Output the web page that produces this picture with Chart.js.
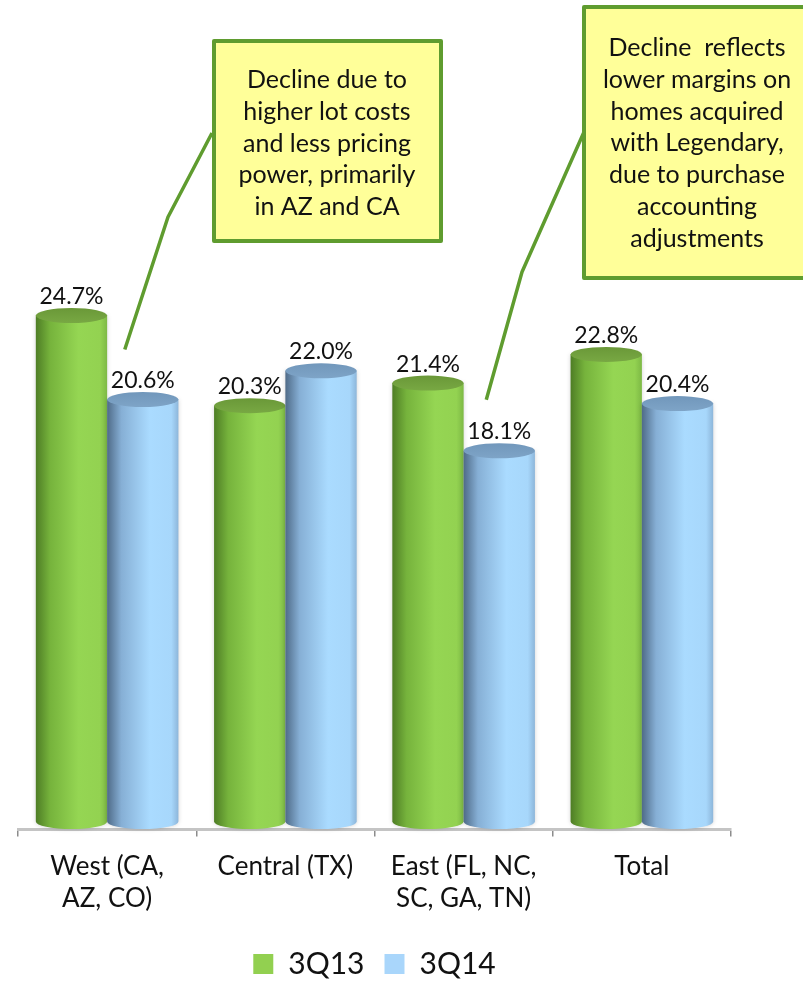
<!DOCTYPE html>
<html>
<head>
<meta charset="utf-8">
<script src="https://cdn.jsdelivr.net/npm/chart.js@4.4.1/dist/chart.umd.min.js"></script>
<style>
  html, body { margin: 0; padding: 0; background: #fff; }
  #wrap { width: 803px; height: 986px; position: relative; }
</style>
</head>
<body>
<div id="wrap"><canvas id="marginChart"></canvas></div>
<script>
// Gross margin by region, third quarter
const regions = [['West (CA,', 'AZ, CO)'], ['Central (TX)'], ['East (FL, NC,', 'SC, GA, TN)'], ['Total']];
const margin3Q13 = [24.7, 20.3, 21.4, 22.8];
const margin3Q14 = [20.6, 22.0, 18.1, 20.4];

// Callout notes: which bar they point at, and their text
const noteWest = ['Decline due to', 'higher lot costs', 'and less pricing', 'power, primarily', 'in AZ and CA'];
const noteEast = ['Decline  reflects', 'lower margins on', 'homes acquired', 'with Legendary,', 'due to purchase', 'accounting', 'adjustments'];

const FONT = 'Lato, "Open Sans", sans-serif';

const cylinderColors = [
    { stops: ['#4e7d25', '#76b33c', '#95d653', '#93d251', '#7db945'], top: '#78a843', topEdge: '#6a9838' },
    { stops: ['#4f6b88', '#86afd5', '#aadbff', '#a7d7fb', '#8db6da'], top: '#7ea4c7', topEdge: '#7197bb' }
];

function drawCylinder(ctx, x, top, base, w, c) {
    const rx = w / 2, ry = 7.5;
    const grad = ctx.createLinearGradient(x - rx, 0, x + rx, 0);
    grad.addColorStop(0, c.stops[0]);
    grad.addColorStop(0.2, c.stops[1]);
    grad.addColorStop(0.6, c.stops[2]);
    grad.addColorStop(0.9, c.stops[3]);
    grad.addColorStop(1, c.stops[4]);

    ctx.save();
    ctx.shadowColor = 'rgba(0,0,0,0.18)';
    ctx.shadowBlur = 4;
    ctx.beginPath();
    ctx.moveTo(x - rx, top);
    ctx.lineTo(x - rx, base);
    ctx.ellipse(x, base, rx, ry, 0, Math.PI, 0, true);
    ctx.lineTo(x + rx, top);
    ctx.closePath();
    ctx.fillStyle = grad;
    ctx.fill();
    ctx.restore();

    // top face
    const tg = ctx.createLinearGradient(0, top - ry, 0, top + ry);
    tg.addColorStop(0, c.topEdge);
    tg.addColorStop(1, c.top);
    ctx.beginPath();
    ctx.ellipse(x, top, rx, ry, 0, 0, Math.PI * 2);
    ctx.fillStyle = tg;
    ctx.fill();
}

const cylinders = {
    id: 'cylinders',
    beforeDatasetsDraw(chart) {
        const ctx = chart.ctx;
        chart.data.datasets.forEach((ds, i) => {
            chart.getDatasetMeta(i).data.forEach(bar => {
                drawCylinder(ctx, bar.x, bar.y, bar.base, bar.width, cylinderColors[i]);
            });
        });
        return false;
    }
};

function drawNote(ctx, box, lines, path) {
    ctx.save();
    ctx.strokeStyle = '#5f9c2f';
    ctx.lineWidth = 3.5;
    ctx.lineJoin = 'round';
    ctx.beginPath();
    ctx.moveTo(path[0][0], path[0][1]);
    for (let i = 1; i < path.length; i++) ctx.lineTo(path[i][0], path[i][1]);
    ctx.stroke();

    ctx.fillStyle = '#ffff99';
    ctx.fillRect(box.x, box.y, box.w, box.h);
    ctx.lineWidth = 4;
    ctx.strokeRect(box.x, box.y, box.w, box.h);

    ctx.fillStyle = '#111';
    ctx.font = '25px ' + FONT;
    ctx.textAlign = 'center';
    ctx.textBaseline = 'middle';
    lines.forEach((t, i) => ctx.fillText(t, box.cx, box.ty + i * 31.8));
    ctx.restore();
}

const labelsAndNotes = {
    id: 'labelsAndNotes',
    afterDraw(chart) {
        const ctx = chart.ctx;
        ctx.save();
        ctx.fillStyle = '#111';
        ctx.font = '23px ' + FONT;
        ctx.textAlign = 'center';
        ctx.textBaseline = 'middle';
        chart.data.datasets.forEach((ds, i) => {
            chart.getDatasetMeta(i).data.forEach((bar, j) => {
                ctx.fillText(ds.data[j].toFixed(1) + '%', bar.x, bar.y - 19);
            });
        });
        ctx.restore();

        const west = chart.getDatasetMeta(1).data[0];
        const east = chart.getDatasetMeta(1).data[2];
        drawNote(ctx, { x: 214, y: 41, w: 227, h: 200, cx: 327, ty: 80 }, noteWest,
            [[212, 133], [168, 217], [west.x - 18, west.y - 50]]);
        drawNote(ctx, { x: 584, y: 7, w: 240, h: 271, cx: 697, ty: 48 }, noteEast,
            [[584, 132], [522, 272], [east.x - 13, east.y - 51]]);
    }
};

const ctx = document.getElementById('marginChart').getContext('2d');
const chart = new Chart(ctx, {
    type: 'bar',
    data: {
        labels: regions,
        datasets: [
            { label: '3Q13', data: margin3Q13, backgroundColor: '#92d050', borderWidth: 0 },
            { label: '3Q14', data: margin3Q14, backgroundColor: '#a9d6fb', borderWidth: 0 }
        ]
    },
    options: {
        responsive: true,
        maintainAspectRatio: false,
        animation: false,
        devicePixelRatio: 1,
        layout: { padding: { left: 18, right: 72, top: 0, bottom: -3 } },
        datasets: { bar: { categoryPercentage: 0.8, barPercentage: 1.0 } },
        scales: {
            y: { display: false, min: -0.39, max: 40.1 },
            x: {
                grid: { display: true, drawOnChartArea: false, offset: true, tickLength: 7, color: '#8c8c8c', lineWidth: 1.5 },
                border: { display: true, color: '#c4c4c4', width: 3 },
                ticks: { color: '#111', font: { family: FONT, size: 26, lineHeight: 1.24 }, padding: 14, maxRotation: 0, autoSkip: false }
            }
        },
        plugins: {
            legend: {
                position: 'bottom',
                labels: { boxWidth: 20, boxHeight: 20, padding: 20, color: '#111', font: { family: FONT, size: 30 } }
            },
            tooltip: { enabled: false }
        }
    },
    plugins: [cylinders, labelsAndNotes]
});
</script>
</body>
</html>
